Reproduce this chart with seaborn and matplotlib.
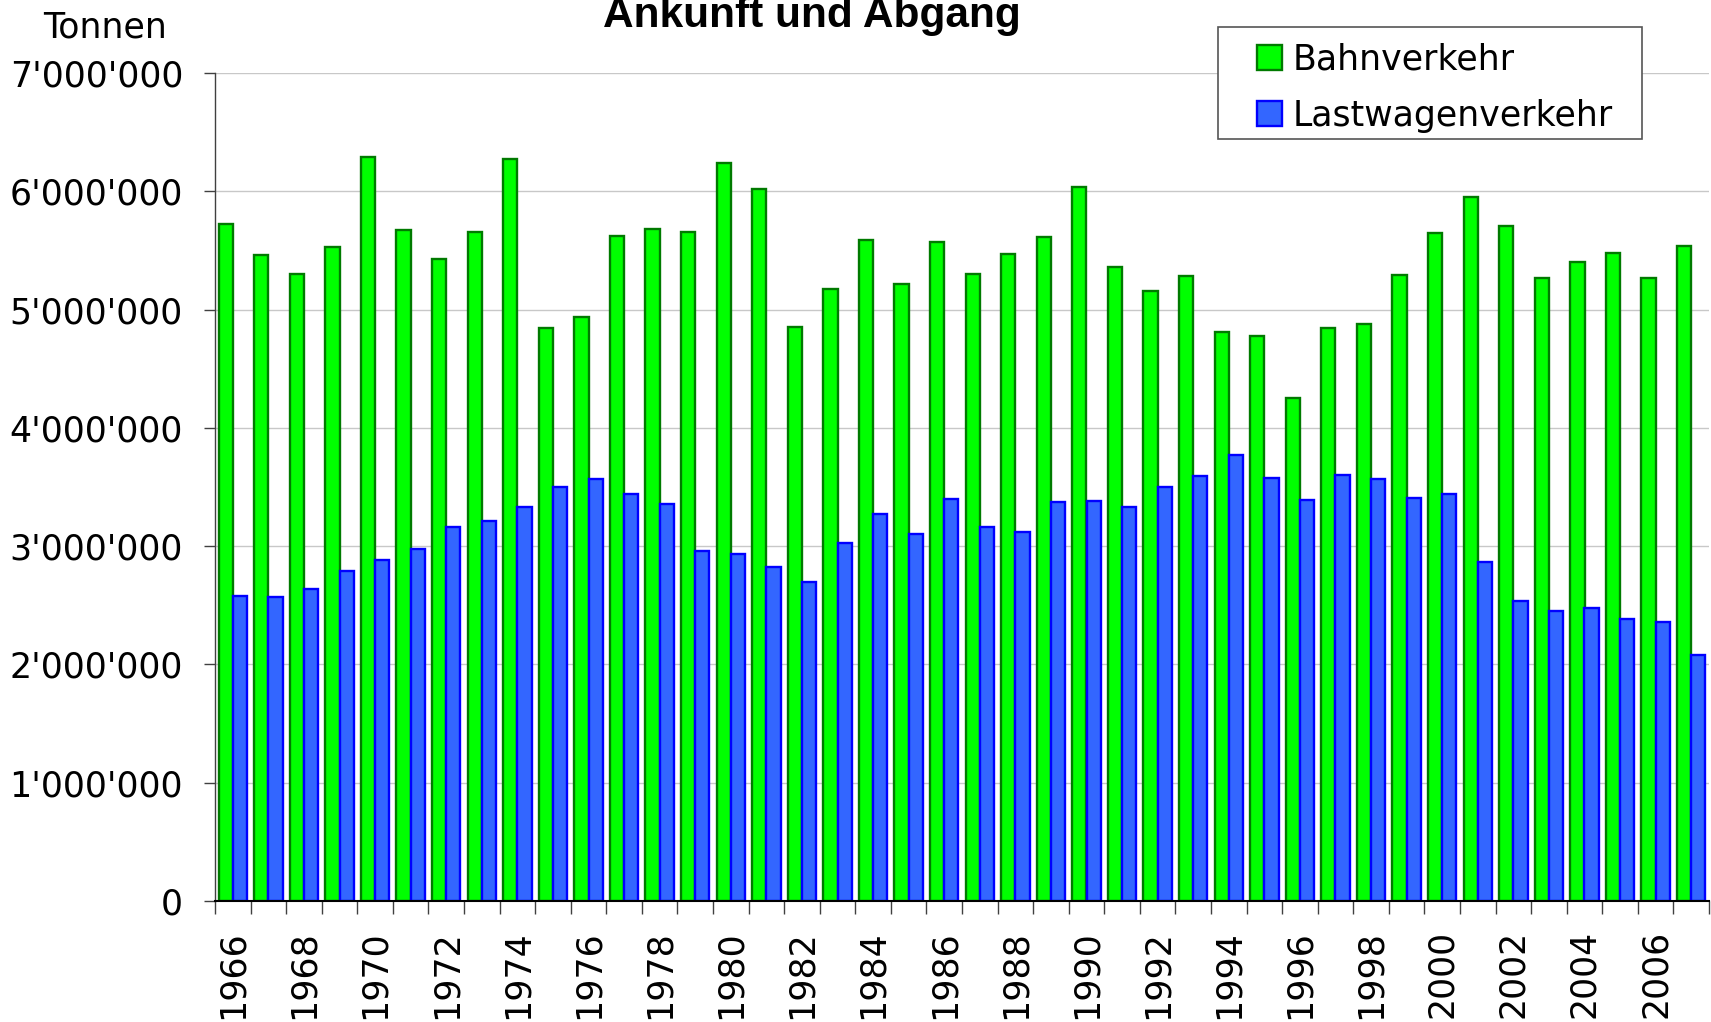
import matplotlib
matplotlib.use("Agg")
import matplotlib.pyplot as plt
from matplotlib.patches import Patch, Rectangle
from matplotlib.ticker import FixedLocator, FuncFormatter
import pandas as pd
import seaborn as sns

# Daten (Tonnen pro Jahr)
jahre = list(range(1966, 2008))
bahnverkehr = [
    5.72, 5.46, 5.30, 5.53, 6.29, 5.67, 5.43, 5.66, 6.27, 4.84,
    4.94, 5.62, 5.68, 5.66, 6.24, 6.02, 4.85, 5.17, 5.59, 5.22,
    5.57, 5.30, 5.47, 5.61, 6.04, 5.36, 5.16, 5.28, 4.81, 4.78,
    4.25, 4.84, 4.88, 5.29, 5.65, 5.95, 5.71, 5.27, 5.40, 5.48,
    5.27, 5.54,
]
lastwagenverkehr = [
    2.58, 2.57, 2.64, 2.79, 2.88, 2.98, 3.16, 3.21, 3.33, 3.50,
    3.57, 3.44, 3.36, 2.96, 2.93, 2.82, 2.70, 3.03, 3.27, 3.10,
    3.40, 3.16, 3.12, 3.37, 3.38, 3.33, 3.50, 3.59, 3.77, 3.58,
    3.39, 3.60, 3.57, 3.41, 3.44, 2.87, 2.54, 2.45, 2.48, 2.38,
    2.36, 2.08,
]
serien = ["Bahnverkehr", "Lastwagenverkehr"]
y_ticks = list(range(0, 7_000_001, 1_000_000))

fill = {"Bahnverkehr": "#00ff00", "Lastwagenverkehr": "#3366ff"}
edge = {"Bahnverkehr": "#007a00", "Lastwagenverkehr": "#0000ff"}

df = pd.DataFrame({
    "Jahr": [str(j) for j in jahre] * 2,
    "Tonnen": [v * 1e6 for v in bahnverkehr + lastwagenverkehr],
    "Verkehr": [serien[0]] * len(jahre) + [serien[1]] * len(jahre),
})

sns.set_theme(style="white")
plt.rcParams["font.family"] = ["DejaVu Sans"]
plt.rcParams["text.color"] = "black"

W, H = 1711, 1022
fig = plt.figure(figsize=(W / 100, H / 100), dpi=100)
ax = fig.add_axes([215 / W, 1 - 901 / H, (1709 - 215) / W, (901 - 73) / H])

sns.barplot(data=df, x="Jahr", y="Tonnen", hue="Verkehr", hue_order=serien,
            palette=fill, saturation=1, width=0.8, linewidth=1.7,
            legend=False, ax=ax)
for cont, name in zip(ax.containers, serien):
    for bar in cont:
        bar.set_edgecolor(edge[name])

n = len(jahre)
ax.set_xlim(-0.5, n - 0.5)
ax.set_ylim(0, 7_000_000)
ax.set_xlabel("")
ax.set_ylabel("")

# Achsen
ax.yaxis.set_major_locator(FixedLocator(y_ticks))
ax.yaxis.set_major_formatter(FuncFormatter(lambda v, p: f"{int(v):,}".replace(",", "'")))
ax.grid(axis="y", color="#c8c8c8", linewidth=1)
ax.grid(axis="x", visible=False)
ax.set_axisbelow(True)

ax.set_xticks(range(0, n, 2))
ax.set_xticklabels([str(j) for j in jahre[::2]], rotation=90, va="top")
ax.set_xticks([i - 0.5 for i in range(n + 1)], minor=True)
ax.tick_params(axis="x", which="major", length=0, pad=21, labelsize=25,
               labelcolor="black")
ax.tick_params(axis="x", which="minor", bottom=True, length=9.5, width=1, color="#404040")
ax.tick_params(axis="y", left=True, length=8, width=1, color="#404040", pad=15,
               labelsize=25, labelcolor="black")

for s in ["top", "right"]:
    ax.spines[s].set_visible(False)
ax.spines["left"].set_color("#404040")
ax.spines["left"].set_linewidth(1)
ax.spines["bottom"].set_color("black")
ax.spines["bottom"].set_linewidth(1.5)

# Texte
fig.text(812 / W, 1 - 27 / H, "Ankunft und Abgang", ha="center", va="baseline",
         fontsize=30.5, fontweight="bold", color="black",
         family=["Liberation Sans", "DejaVu Sans"])
fig.text(105 / W, 1 - 37 / H, "Tonnen", ha="center", va="baseline", fontsize=25,
         color="black")

# Legende
fig.patches.append(Rectangle((1218 / W, 1 - 139 / H), 424 / W, 112 / H,
                             transform=fig.transFigure, facecolor="white",
                             edgecolor="#555555", linewidth=1.2, zorder=5))
handles = [Patch(facecolor=fill[s], edgecolor=edge[s], linewidth=1.7) for s in serien]
leg = fig.legend(handles, serien, loc="upper left",
                 bbox_to_anchor=(1257 / W, 1 - 43 / H), frameon=False,
                 borderpad=0, borderaxespad=0, fontsize=25,
                 handlelength=0.72, handleheight=0.72, handletextpad=0.3,
                 labelspacing=0.62, labelcolor="black")
leg.set_zorder(6)

fig.savefig("out.png", dpi=100)
